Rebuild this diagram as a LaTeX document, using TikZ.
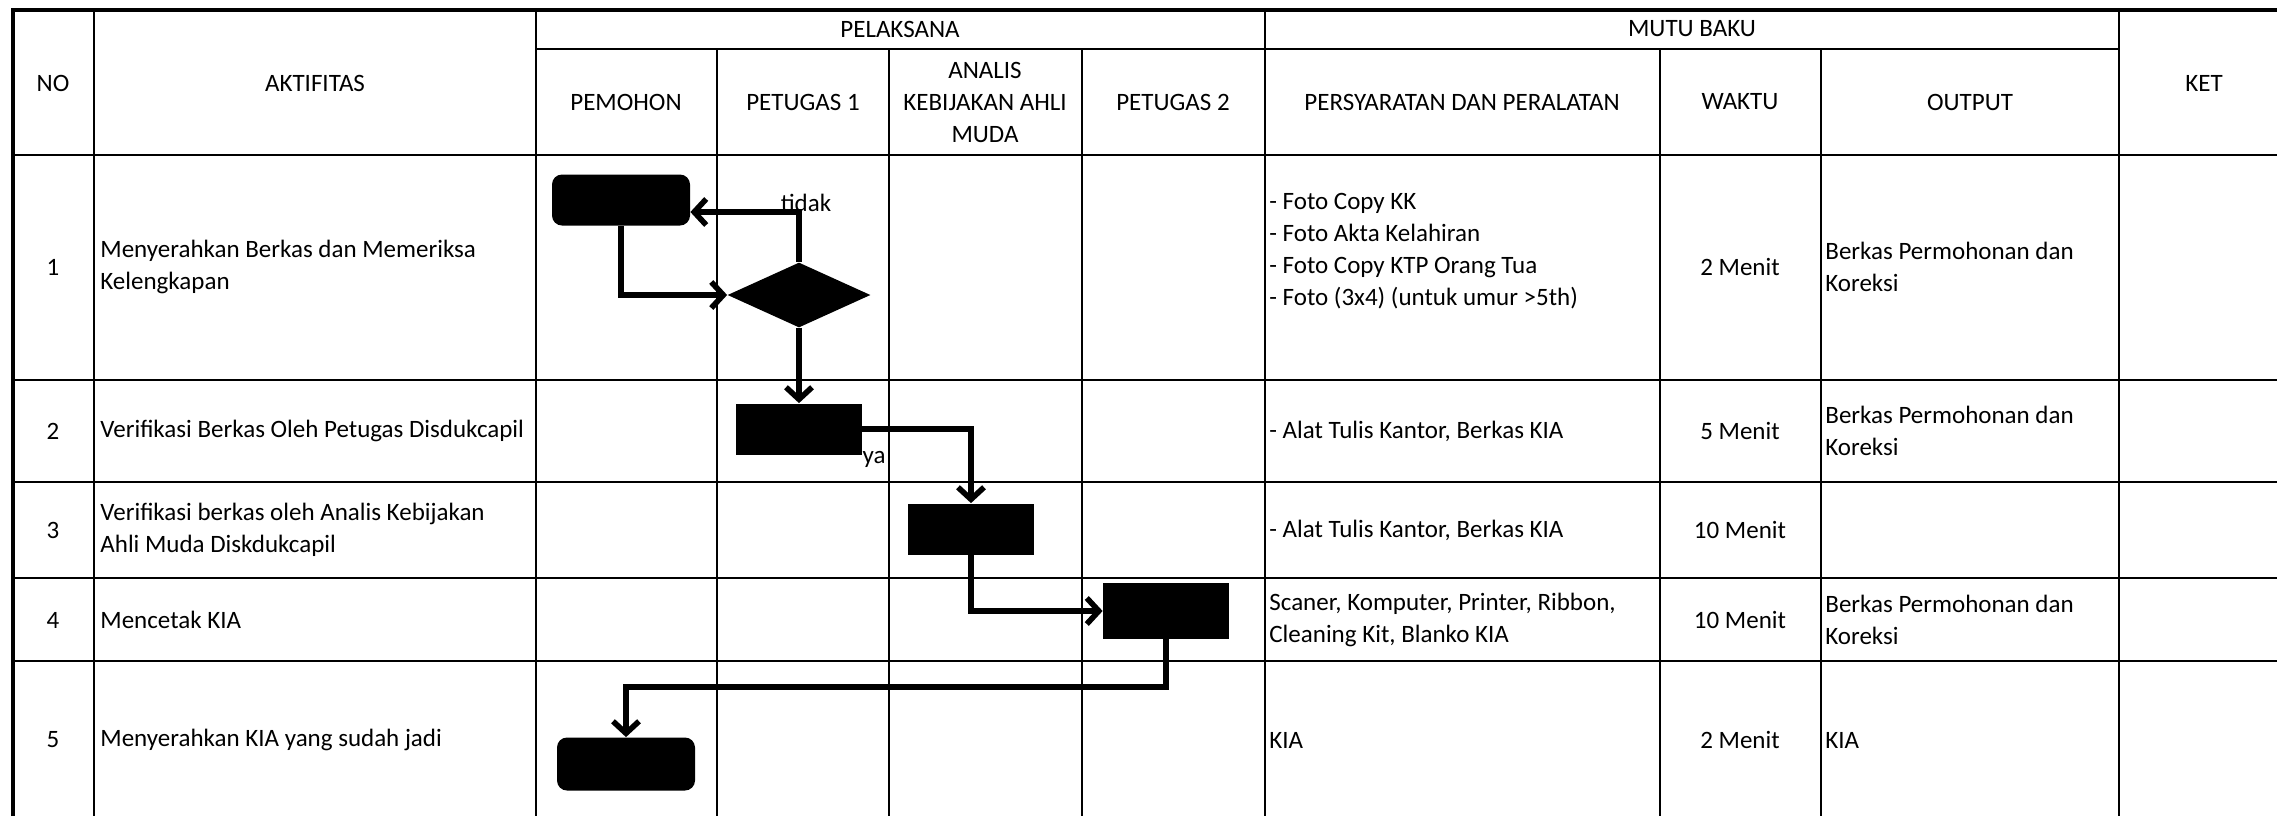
\documentclass[tikz,border=0pt]{standalone}
\usepackage{fontspec}
\setmainfont{Carlito}
\usetikzlibrary{arrows.meta,shapes.geometric}

\begin{document}
\begin{tikzpicture}[x=0.5pt, y=-0.5pt,
    grid/.style={line width=1.2pt},
    border/.style={line width=2pt},
    txt/.style={font=\fontsize{12.5}{16}\selectfont, inner sep=0pt, align=center},
    ltxt/.style={txt, anchor=west, align=left},
    proc/.style={rectangle, fill=black, minimum width=63pt, minimum height=25.5pt, inner sep=0pt},
    term/.style={proc, minimum width=69pt, rounded corners=5pt},
    decision/.style={diamond, fill=black, minimum width=71.5pt, minimum height=32.5pt, inner sep=0pt},
    flow/.style={-{Straight Barb[length=6pt,width=13pt]}, line width=2.8pt}
]
    \useasboundingbox (0,0) rectangle (2277,816);

    % table grid
    \foreach \x in {94,536,1265,2119}
        \draw[grid] (\x,10) -- (\x,816);
    \foreach \x in {717,889,1082,1660,1821}
        \draw[grid] (\x,49) -- (\x,816);
    \foreach \y in {155,380,482,578,661}
        \draw[grid] (13,\y) -- (2277,\y);
    \draw[grid] (536,49) -- (2119,49);
    \draw[border] (13,816) -- (13,10) -- (2277,10);

    % header
    \node[txt] (hno) at (53,83) {NO};
    \node[txt] (hakt) at (315,83) {AKTIFITAS};
    \node[txt] (hpel) at (900,29) {PELAKSANA};
    \node[txt] (hmutu) at (1692,29) {MUTU BAKU};
    \node[txt] (hket) at (2204,83) {KET};
    \node[txt] (hpemohon) at (626,102) {PEMOHON};
    \node[txt] (hpetugas1) at (803,102) {PETUGAS 1};
    \node[txt] (hanalis) at (985,102) {ANALIS\\KEBIJAKAN AHLI\\MUDA};
    \node[txt] (hpetugas2) at (1173,102) {PETUGAS 2};
    \node[txt] (hsyarat) at (1462,102) {PERSYARATAN DAN PERALATAN};
    \node[txt] (hwaktu) at (1740,102) {WAKTU};
    \node[txt] (houtput) at (1970,102) {OUTPUT};

    % rows
    \node[txt] (no1) at (53,267) {1};
    \node[txt] (no2) at (53,431) {2};
    \node[txt] (no3) at (53,530) {3};
    \node[txt] (no4) at (53,620) {4};
    \node[txt] (no5) at (53,740) {5};

    \node[ltxt] (akt1) at (100,267) {Menyerahkan Berkas dan Memeriksa\\Kelengkapan};
    \node[ltxt] (akt2) at (100,431) {Verifikasi Berkas Oleh Petugas Disdukcapil};
    \node[ltxt] (akt3) at (100,530) {Verifikasi berkas oleh Analis Kebijakan\\Ahli Muda Diskdukcapil};
    \node[ltxt] (akt4) at (100,620) {Mencetak KIA};
    \node[ltxt] (akt5) at (100,740) {Menyerahkan KIA yang sudah jadi};

    \node[ltxt] (syarat1) at (1269,251) {- Foto Copy KK\\- Foto Akta Kelahiran\\- Foto Copy KTP Orang Tua\\- Foto (3x4) (untuk umur >5th)};
    \node[ltxt] (syarat2) at (1269,431) {- Alat Tulis Kantor, Berkas KIA};
    \node[ltxt] (syarat3) at (1269,530) {- Alat Tulis Kantor, Berkas KIA};
    \node[ltxt] (syarat4) at (1269,620) {Scaner, Komputer, Printer, Ribbon,\\Cleaning Kit, Blanko KIA};
    \node[ltxt] (syarat5) at (1269,740) {KIA};

    \node[txt] (waktu1) at (1740,267) {2 Menit};
    \node[txt] (waktu2) at (1740,431) {5 Menit};
    \node[txt] (waktu3) at (1740,530) {10 Menit};
    \node[txt] (waktu4) at (1740,620) {10 Menit};
    \node[txt] (waktu5) at (1740,740) {2 Menit};

    \node[ltxt] (out1) at (1825,267) {Berkas Permohonan dan\\Koreksi};
    \node[ltxt] (out2) at (1825,431) {Berkas Permohonan dan\\Koreksi};
    \node[ltxt] (out4) at (1825,620) {Berkas Permohonan dan\\Koreksi};
    \node[ltxt] (out5) at (1825,740) {KIA};

    % flow shapes
    \node[term] (start) at (621,200) {};
    \node[decision] (cek) at (799,295) {};
    \node[proc] (verif1) at (799,429) {};
    \node[proc] (verif2) at (971,529) {};
    \node[proc, minimum height=28pt] (cetak) at (1166,611) {};
    \node[term, minimum height=26.5pt] (serah) at (626,764) {};

    \coordinate (tidakturn) at (799,212);
    \coordinate (balik) at (1170,687);

    \draw[flow] (start.south) |- (cek.west);
    \draw[flow] (cek.north) -- (tidakturn) -- (tidakturn -| start.east);
    \draw[flow] (cek.south) -- (verif1.north);
    \draw[flow] (verif1.east) -| (verif2.north);
    \draw[flow] (verif2.south) |- (cetak.west);
    \draw[flow] (cetak.south) -- (cetak.south |- balik) -| (serah.north);

    \node[txt] (tidak) at (806,203) {tidak};
    \node[txt] (ya) at (874,459) {ya};
\end{tikzpicture}
\end{document}
